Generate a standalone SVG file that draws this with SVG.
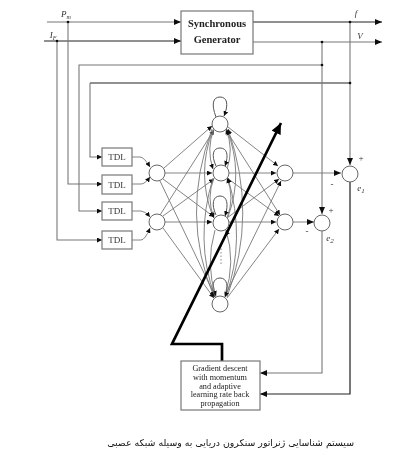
<svg xmlns="http://www.w3.org/2000/svg" width="400" height="465" viewBox="0 0 400 465">
<style>
.box{fill:#fff;stroke:#777;stroke-width:1.2}
.n{fill:#fff;stroke:#666;stroke-width:1}
.loop{fill:none;stroke:#555;stroke-width:1}
.c{fill:none;stroke:#777;stroke-width:.9}
.w{fill:none;stroke:#777;stroke-width:1.1}
.d{fill:none;stroke:#222;stroke-width:1.2}
.a{marker-end:url(#ah)}
.s{marker-end:url(#sm)}
.lbl{font-family:"Liberation Serif",serif;font-size:9px;fill:#333;text-anchor:middle}
.i{font-style:italic}
.bt{font-family:"Liberation Serif",serif;font-size:8.2px;fill:#222;text-anchor:middle}
.hd{font-family:"Liberation Serif",serif;font-size:10.5px;font-weight:bold;fill:#222;text-anchor:middle}
.dot{fill:#111}
</style>
<defs>
<marker id="ah" markerUnits="userSpaceOnUse" markerWidth="8" markerHeight="6" refX="7" refY="3" orient="auto"><path d="M0 0L7 3L0 6z" fill="#111"/></marker>
<marker id="sm" markerUnits="userSpaceOnUse" markerWidth="6" markerHeight="5" refX="5" refY="2.5" orient="auto"><path d="M0 0L5 2.5L0 5z" fill="#111"/></marker>
<marker id="big" markerUnits="userSpaceOnUse" markerWidth="12" markerHeight="10" refX="11" refY="5" orient="auto"><path d="M0 0L11 5L0 10z" fill="#000"/></marker>
<filter id="soft" x="0" y="0" width="100%" height="100%"><feGaussianBlur stdDeviation=".35"/></filter>
</defs>
<rect width="400" height="465" fill="#fff"/>
<g filter="url(#soft)">
<g id="connectors">
<path class="w a" d="M47 22H181"/>
<path class="d a" d="M44 41H181"/>
<path class="d a" d="M253 22H382"/>
<path class="w a" d="M253 42H382"/>
<path class="w s" d="M57 41V240H102"/>
<path class="w s" d="M68 22V184H102"/>
<path class="w s" d="M322 65H79V211H102"/>
<path class="d" d="M350 83H90"/>
<path class="w s" d="M90 83V157H102"/>
<path class="w a" d="M322 42V214"/>
<path class="w a" d="M350 22V165"/>
<path class="w a" d="M322 231V373H260"/>
<path class="d a" d="M350 182V394H260"/>
<path class="c s" d="M132 157H140Q144 157 150 167"/>
<path class="c s" d="M132 184H141Q145 184 150 177"/>
<path class="c s" d="M132 211H141Q145 211 150 217"/>
<path class="c s" d="M132 240H141Q145 240 150 228"/>
<path class="c s" d="M164 168L212 126"/>
<path class="c s" d="M165 173H212"/>
<path class="c s" d="M163 179L214 217"/>
<path class="c s" d="M160 181L215 296"/>
<path class="c s" d="M160 215L214 130"/>
<path class="c s" d="M163 216L214 179"/>
<path class="c s" d="M165 222H212"/>
<path class="c s" d="M163 228L214 298"/>
<path class="c s" d="M228 127L278 166"/>
<path class="c s" d="M226 130L280 215"/>
<path class="c s" d="M229 173H276"/>
<path class="c s" d="M227 178L279 216"/>
<path class="c s" d="M227 218L279 179"/>
<path class="c s" d="M229 222H276"/>
<path class="c s" d="M225 296L281 181"/>
<path class="c s" d="M227 298L279 229"/>
<path class="c a" d="M293 173H341"/>
<path class="c a" d="M293 222H314"/>
<path class="c s" d="M214 129Q206 149 213 169"/>
<path class="c s" d="M227 169Q234 149 226 129"/>
<path class="c s" d="M213 130Q196 173 213 217"/>
<path class="c s" d="M228 217Q244 173 227 130"/>
<path class="c s" d="M212 129Q180 215 214 297"/>
<path class="c s" d="M227 297Q258 215 228 129"/>
<path class="c s" d="M214 178Q206 198 214 218"/>
<path class="c s" d="M227 218Q235 198 227 178"/>
<path class="c s" d="M213 178Q194 240 215 297"/>
<path class="c s" d="M226 296Q246 240 228 178"/>
<path class="c s" d="M215 230Q205 265 216 296"/>
<path class="c s" d="M225 295Q236 262 226 230"/>
<path d="M221 245V266" fill="none" stroke="#888" stroke-width="1" stroke-dasharray="1.5 2"/>
<path d="M222 361V344H172L281 123" fill="none" stroke="#000" stroke-width="2.7" marker-end="url(#big)"/>
<circle class="dot" cx="68" cy="22" r="1.3"/><circle class="dot" cx="57" cy="41" r="1.3"/>
<circle class="dot" cx="350" cy="22" r="1.3"/><circle class="dot" cx="322" cy="42" r="1.3"/>
<circle class="dot" cx="322" cy="65" r="1.3"/><circle class="dot" cx="350" cy="83" r="1.3"/>
</g>
<g id="generator"><rect class="box" x="181" y="11" width="72" height="43"/>
<text class="hd" x="217" y="27">Synchronous</text>
<text class="hd" x="217" y="43">Generator</text></g>
<g id="tdl1"><rect class="box" x="102" y="148" width="30" height="18"/><text class="lbl" x="117" y="160">TDL</text></g>
<g id="tdl2"><rect class="box" x="102" y="175" width="30" height="19"/><text class="lbl" x="117" y="188">TDL</text></g>
<g id="tdl3"><rect class="box" x="102" y="202" width="30" height="18"/><text class="lbl" x="117" y="214">TDL</text></g>
<g id="tdl4"><rect class="box" x="102" y="231" width="30" height="18"/><text class="lbl" x="117" y="243">TDL</text></g>
<g id="in1"><circle class="n" cx="157" cy="173" r="8"/></g>
<g id="in2"><circle class="n" cx="157" cy="222" r="8"/></g>
<g id="h1"><path class="loop s" d="M216 117C211 104 213 97 220 97C227 97 229 104 224 116"/><circle class="n" cx="220" cy="124" r="8"/></g>
<g id="h2"><path class="loop s" d="M216 166C211 155 213 148 220 148C227 148 229 155 225 166"/><circle class="n" cx="221" cy="173" r="8"/></g>
<g id="h3"><path class="loop s" d="M216 215C211 204 213 196 220 196C227 196 229 204 225 216"/><circle class="n" cx="221" cy="223" r="8"/></g>
<g id="h4"><path class="loop s" d="M215 297C211 286 213 278 220 278C227 278 229 286 225 297"/><circle class="n" cx="220" cy="304" r="8"/></g>
<g id="o1"><circle class="n" cx="285" cy="173" r="8"/></g>
<g id="o2"><circle class="n" cx="285" cy="222" r="8"/></g>
<g id="e1"><circle class="n" cx="350" cy="174" r="8"/>
<text class="lbl" x="361" y="161" font-size="10">+</text><text class="lbl" x="332" y="187" font-size="10">-</text>
<text class="lbl i" x="361" y="191" font-size="10">e<tspan font-size="7" dy="2">1</tspan></text></g>
<g id="e2"><circle class="n" cx="322" cy="223" r="8"/>
<text class="lbl" x="331" y="213" font-size="10">+</text><text class="lbl" x="307" y="234" font-size="10">-</text>
<text class="lbl i" x="330" y="241" font-size="10">e<tspan font-size="7" dy="2">2</tspan></text></g>
<g id="trainer"><rect class="box" x="181" y="361" width="79" height="49"/>
<text class="bt" x="220" y="371">Gradient descent</text>
<text class="bt" x="220" y="380">with momentum</text>
<text class="bt" x="220" y="389">and adaptive</text>
<text class="bt" x="220" y="397">learning rate back</text>
<text class="bt" x="220" y="406">propagation</text></g>
<g id="labels">
<text class="lbl i" x="66" y="17" font-size="10">P<tspan font-size="6" dy="2">m</tspan></text>
<text class="lbl i" x="53" y="38">I<tspan font-size="6" dy="2">F</tspan></text>
<text class="lbl i" x="356" y="16" font-size="10">f</text>
<text class="lbl i" x="360" y="39">V</text>
</g>
<text id="caption" x="354" y="446" direction="rtl" font-family="'DejaVu Sans',sans-serif" font-size="9.4" fill="#111">سیستم شناسایی ژنراتور سنکرون دریایی به وسیله شبکه عصبی</text>
</g>
</svg>
